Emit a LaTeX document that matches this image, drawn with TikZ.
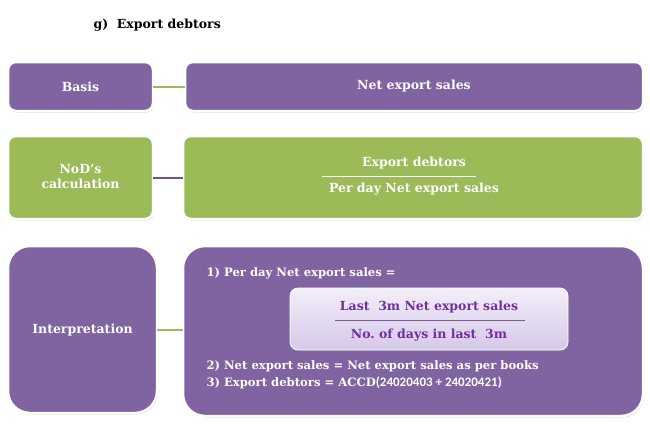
\documentclass[tikz,border=0pt]{standalone}
\usepackage{fontspec}
\setmainfont{DejaVu Serif}
\newfontfamily\numfont{Carlito}
\usetikzlibrary{shadows}
\definecolor{pur}{RGB}{128,100,162}
\definecolor{grn}{RGB}{155,187,89}
\definecolor{lilA}{RGB}{243,239,249}
\definecolor{lilB}{RGB}{214,200,233}
\definecolor{dpur}{RGB}{112,48,160}
\tikzset{
  box/.style={draw=white, line width=2.5pt, rounded corners=8pt, drop shadow={opacity=0.3, shadow xshift=1pt, shadow yshift=-1.5pt}},
  bigbox/.style={box, rounded corners=22pt},
  txt/.style={text=white, font=\bfseries\fontsize{12.5}{15}\selectfont},
  ltxt/.style={text=white, font=\bfseries\fontsize{11.6}{14}\selectfont},
  conn/.style={line width=2.5pt},
}
\begin{document}
\begin{tikzpicture}[x=1pt,y=-1pt]
\useasboundingbox (0,0) rectangle (650,426);
\fill[white] (0,0) rectangle (650,426);
\node[anchor=west, font=\bfseries\fontsize{12.5}{15}\selectfont] (title) at (90,25) {g)\ \ Export debtors};
% row 1
\path[box, fill=pur] (8,62) rectangle (153,111);
\node[txt] (basis) at (80.5,86.5) {Basis};
\path[box, fill=pur] (185,62) rectangle (643,111);
\node[txt] (nes) at (414,86.5) {Net export sales};
\coordinate (b1) at (153,87); \coordinate (b2) at (185,87);
\draw[conn, grn] (b1) -- (b2);
% row 2
\path[box, fill=grn] (8,136) rectangle (153,219);
\node[txt, align=center] (nod) at (80.5,177) {NoD's\\calculation};
\path[box, fill=grn] (183,136) rectangle (643,219);
\node[txt] (num1) at (414,163) {Export debtors};
\node[txt] (den1) at (414,189) {Per day Net export sales};
\draw[white, line width=1.5pt] (322,176.5) -- (476,176.5);
\coordinate (c1) at (153,178); \coordinate (c2) at (183,178);
\draw[conn, pur!85!black] (c1) -- (c2);
% row 3
\path[bigbox, fill=pur] (8,246) rectangle (157,413);
\node[txt] (interp) at (82.5,330) {Interpretation};
\path[bigbox, fill=pur] (183,246) rectangle (643,416);
\coordinate (d1) at (157,330); \coordinate (d2) at (183,330);
\draw[conn, grn] (d1) -- (d2);
\node[ltxt, anchor=west] (l1) at (203,273) {1) Per day Net export sales =};
\path[draw=white, line width=0.8pt, rounded corners=8pt, top color=lilA, bottom color=lilB, drop shadow={opacity=0.35, shadow xshift=1pt, shadow yshift=-1.5pt}] (290,288) rectangle (568,350);
\node[txt, text=dpur] (num2) at (429,307) {Last\ \ 3m Net export sales};
\node[txt, text=dpur] (den2) at (429,335) {No.\ of days in last\ \ 3m};
\draw[gray!60!dpur, line width=1.8pt] (335,320.5) -- (525,320.5);
\node[ltxt, anchor=west] (l2) at (203,366) {2) Net export sales = Net export sales as per books};
\node[ltxt, anchor=west] (l3) at (203,383) {3) Export debtors = ACCD{\numfont\fontsize{13}{15}\selectfont(24020403 + 24020421)}};
\end{tikzpicture}
\end{document}
